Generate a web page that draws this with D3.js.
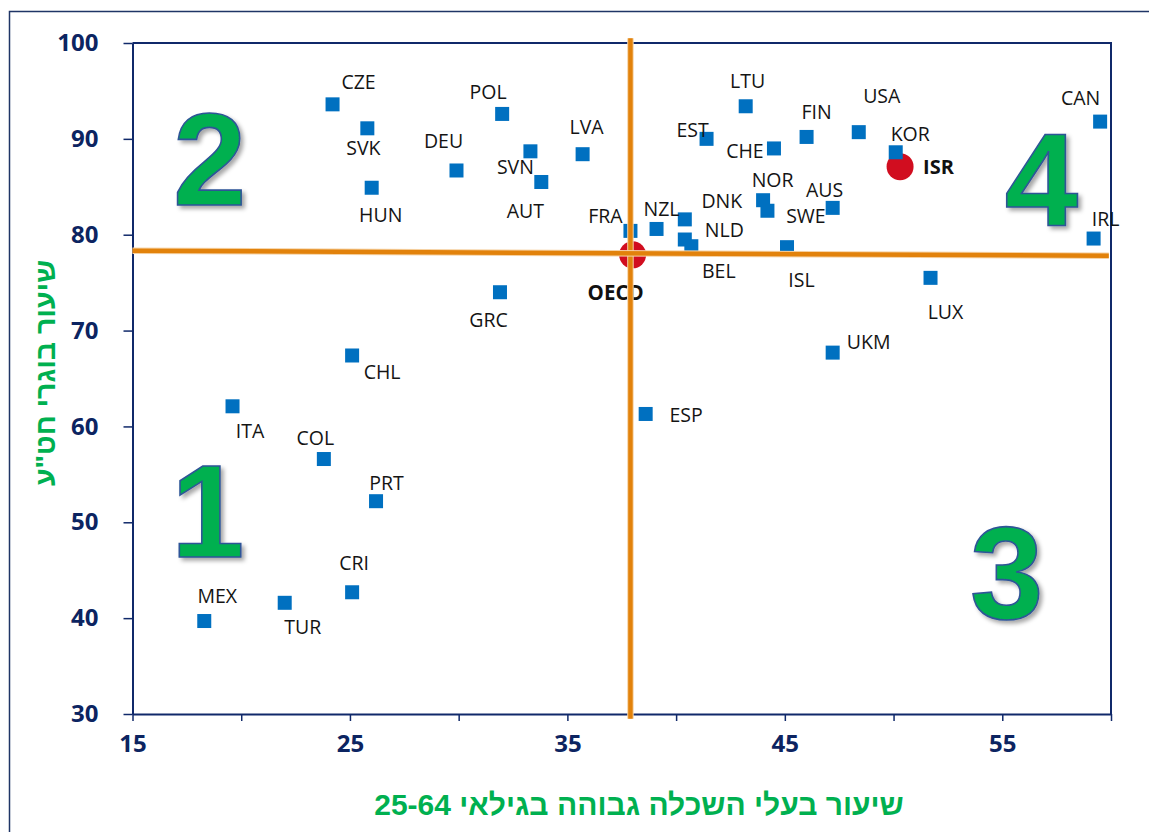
<!DOCTYPE html>
<html>
<head>
<meta charset="utf-8">
<script src="https://cdn.jsdelivr.net/npm/d3@7"></script>
<style>
  html, body { margin: 0; padding: 0; background: #fff; }
  svg { display: block; }
</style>
</head>
<body>
<svg id="chart" width="1149" height="832"></svg>
<script>
// Country codes with tertiary attainment (age 25-64, %) and graduate rate (%)
const countries = ["CZE","SVK","HUN","POL","DEU","SVN","AUT","LVA","FRA","NZL",
  "LTU","EST","CHE","DNK","NLD","BEL","NOR","SWE","AUS","FIN","USA","KOR",
  "CAN","IRL","ISL","LUX","UKM","GRC","ESP","CHL","ITA","COL","PRT","MEX","TUR","CRI"];
const attainment = [24.2,25.8,26.0,32.0,29.9,33.3,33.8,35.7,37.9,39.1,
  43.2,41.4,44.5,40.4,40.4,40.7,44.0,44.2,47.2,46.0,48.4,50.1,
  59.5,59.2,45.1,51.7,47.2,31.9,38.6,25.1,19.6,23.8,26.2,18.3,22.0,25.1];
const gradRate = [93.6,91.1,84.9,92.6,86.7,88.7,85.5,88.4,80.4,80.6,
  93.4,90.0,89.0,81.6,79.5,78.8,83.6,82.5,82.8,90.2,90.7,88.6,
  91.8,79.6,78.7,75.5,67.7,74.0,61.3,67.4,62.1,56.6,52.2,39.7,41.6,42.7];

// Highlighted entries
const highlightNames = ["OECD","ISR"];
const highlightX = [38.0, 50.3];
const highlightY = [77.9, 87.1];

// Reference (average) lines: [x1, y1, x2, y2]
const vLine = [37.9, 100.5, 37.9, 29.5];
const hLine = [15.0, 78.33, 59.9, 77.81];

// Axis ticks
const xTicks = [15,20,25,30,35,40,45,50,55,60];
const xTickLabels = ["15","","25","","35","","45","","55",""];
const yTicks = [30,40,50,60,70,80,90,100];

// Quadrant numbers
const quadrantNames = ["1","2","3","4"];

const xTitle = "שיעור בעלי השכלה גבוהה בגילאי 25-64";
const yTitle = "שיעור בוגרי חט\"ע";

// ---- layout ----
const plot = { left: 132.5, right: 1111, top: 43, bottom: 714 };
const navy = "#10296a";
const tickColor = "#0c2461";
const green = "#00b050";
const blue = "#0070c0";
const red = "#d10d1f";
const orange = "#e2820b";

// label placement relative to each marker centre [dx, dy]
const labelNudge = {
  CZE:[26,-22], SVK:[-4,20], HUN:[9,27], POL:[-14,-21.5], DEU:[-13,-30],
  SVN:[-15,15.5], AUT:[-16,28.5], LVA:[4,-27], FRA:[-25,-15], NZL:[5,-19.5],
  LTU:[2,-25], EST:[-14,-8.5], CHE:[-29,2.5], DNK:[37,-18.5], NLD:[39.5,-10],
  BEL:[27.5,25], NOR:[9.5,-20.5], SWE:[38.5,5.5], AUS:[-8,-17.5], FIN:[10,-25],
  USA:[23,-36.5], KOR:[14.5,-18], CAN:[-19.5,-23.5], IRL:[12,-20], ISL:[14.5,33],
  LUX:[15,34], UKM:[36,-11], GRC:[-11.5,28], ESP:[40.5,1.5], CHL:[30,16],
  ITA:[17.5,25], COL:[-8.5,-21.5], PRT:[10.5,-18], MEX:[13,-25], TUR:[18,24],
  CRI:[2,-29]
};
// quadrant number placement in data units (centre x, baseline y)
const quadrantPos = { "1":[18.46,46.4], "2":[18.55,83.1], "3":[55.2,39.9], "4":[56.8,81.0] };

const svg = d3.select("#chart");

const defs = svg.append("defs");
const shadow = defs.append("filter").attr("id","numShadow")
  .attr("x","-20%").attr("y","-20%").attr("width","150%").attr("height","150%");
shadow.append("feDropShadow").attr("dx",3).attr("dy",3).attr("stdDeviation",2.2)
  .attr("flood-color","#000").attr("flood-opacity",0.35);

// outer frame
svg.append("rect").attr("x",9.5).attr("y",11.5).attr("width",1160).attr("height",840)
  .attr("fill","none").attr("stroke","#1f3566").attr("stroke-width",1.5);

const x = d3.scaleLinear().domain([15,60]).range([plot.left, plot.right]);
const y = d3.scaleLinear().domain([30,100]).range([plot.bottom, plot.top]);

// plot frame: top and right edges
svg.append("path")
  .attr("d", `M${plot.left},${plot.top}H${plot.right}V${plot.bottom}`)
  .attr("fill","none").attr("stroke", navy).attr("stroke-width",2);

// axes
const xAxis = d3.axisBottom(x).tickValues(xTicks)
  .tickFormat((d,i) => xTickLabels[i]).tickSize(7).tickPadding(14).tickSizeOuter(0);
const gx = svg.append("g").attr("transform",`translate(0,${plot.bottom})`).call(xAxis);
const yAxis = d3.axisLeft(y).tickValues(yTicks).tickSize(9).tickPadding(25).tickSizeOuter(0);
const gy = svg.append("g").attr("transform",`translate(${plot.left},0)`).call(yAxis);

[gx, gy].forEach(g => {
  g.select(".domain").attr("stroke", navy).attr("stroke-width", 2);
  g.selectAll(".tick line").attr("stroke", navy).attr("stroke-width", 1.5);
  g.selectAll(".tick text").attr("fill", tickColor)
    .style("font-family","'Open Sans', sans-serif").style("font-weight","700")
    .style("font-size","24px");
});
gx.selectAll(".tick text").attr("dy","0.71em");

// axis titles
svg.append("text").attr("x", 639).attr("y", 815)
  .attr("text-anchor","middle").attr("direction","rtl")
  .attr("fill", green)
  .style("font-family","'Liberation Sans', Arial, sans-serif")
  .style("font-weight","700").style("font-size","30px")
  .text(xTitle);

svg.append("text")
  .attr("transform","translate(55,373) rotate(-90)")
  .attr("text-anchor","middle").attr("direction","rtl")
  .attr("fill", green)
  .style("font-family","'Liberation Sans', Arial, sans-serif")
  .style("font-weight","700").style("font-size","28.5px")
  .text(yTitle);

// quadrant numbers
svg.append("g").selectAll("text").data(quadrantNames).join("text")
  .attr("x", d => x(quadrantPos[d][0]))
  .attr("y", d => y(quadrantPos[d][1]))
  .attr("text-anchor","middle")
  .attr("fill", green).attr("stroke","#2f5597").attr("stroke-width",1.6)
  .attr("filter","url(#numShadow)")
  .style("font-family","'Liberation Sans', Arial, sans-serif")
  .style("font-weight","700").style("font-size","132px")
  .text(d => d);

// highlighted circles
const hl = highlightNames.map((n,i) => ({ name:n, x:highlightX[i], y:highlightY[i] }));
svg.append("g").selectAll("circle").data(hl).join("circle")
  .attr("cx", d => x(d.x)).attr("cy", d => y(d.y)).attr("r", 13.5)
  .attr("fill", red);

// country markers
const pts = countries.map((c,i) => ({ code:c, x:attainment[i], y:gradRate[i] }));
const sq = 14;
svg.append("g").selectAll("rect").data(pts).join("rect")
  .attr("x", d => x(d.x) - sq/2).attr("y", d => y(d.y) - sq/2)
  .attr("width", sq).attr("height", sq).attr("fill", blue);

// country labels
svg.append("g").selectAll("text").data(pts).join("text")
  .attr("x", d => x(d.x) + labelNudge[d.code][0])
  .attr("y", d => y(d.y) + labelNudge[d.code][1])
  .attr("dy","0.36em")
  .attr("text-anchor","middle").attr("fill","#141414")
  .style("font-family","'Open Sans', sans-serif").style("font-size","19.5px")
  .text(d => d.code);

// highlighted labels
svg.append("text")
  .attr("x", x(hl[0].x) - 17).attr("y", y(hl[0].y) + 38).attr("dy","0.36em")
  .attr("text-anchor","middle").attr("fill","#111")
  .style("font-family","'Open Sans', sans-serif").style("font-weight","700").style("font-size","20.5px")
  .text(hl[0].name);
svg.append("text")
  .attr("x", x(hl[1].x) + 23).attr("y", y(hl[1].y)).attr("dy","0.36em")
  .attr("text-anchor","start").attr("fill","#111")
  .style("font-family","'Open Sans', sans-serif").style("font-weight","700").style("font-size","20px")
  .text(hl[1].name);

// average reference lines (drawn over the markers)
const refLines = svg.append("g");
[vLine, hLine].forEach(l => {
  refLines.append("line")
    .attr("x1", x(l[0])).attr("y1", y(l[1])).attr("x2", x(l[2])).attr("y2", y(l[3]))
    .attr("stroke", "#f6d3a6").attr("stroke-width", 6.5);
  refLines.append("line")
    .attr("x1", x(l[0])).attr("y1", y(l[1])).attr("x2", x(l[2])).attr("y2", y(l[3]))
    .attr("stroke", orange).attr("stroke-width", 4.5);
});
</script>
</body>
</html>
